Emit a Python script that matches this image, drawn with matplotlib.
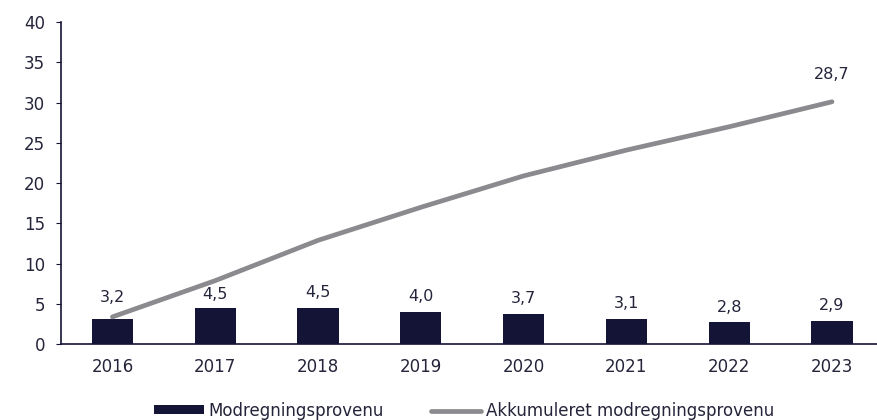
import matplotlib
matplotlib.use("Agg")
import matplotlib.pyplot as plt
from matplotlib.patches import Patch
from matplotlib.lines import Line2D

years = ["2016", "2017", "2018", "2019", "2020", "2021", "2022", "2023"]
bar_values = [3.2, 4.5, 4.5, 4.0, 3.7, 3.1, 2.8, 2.9]
bar_labels = ["3,2", "4,5", "4,5", "4,0", "3,7", "3,1", "2,8", "2,9"]
cum_values = [3.4, 7.9, 12.9, 17.0, 20.9, 24.1, 27.0, 30.1]
cum_last_label = "28,7"

plt.rcParams['font.family'] = ['DejaVu Sans']
navy = "#141437"
grey = "#8a8a8f"
textc = "#24243a"

fig = plt.figure(figsize=(8.77, 4.2), dpi=100)
ax = fig.add_axes([61/877, 1-344.3/420, (883.4-61)/877, 322.3/420])
x = list(range(len(years)))
ax.bar(x, bar_values, width=0.4, color=navy, zorder=2)
ax.plot(x, cum_values, color=grey, lw=3.4, solid_capstyle='round', zorder=3)
label_offsets = [10, 4, 6, 6, 6, 6, 5, 6]
for xi, v, lab, off in zip(x, bar_values, bar_labels, label_offsets):
    ax.annotate(lab, (xi, v), xytext=(0, off), textcoords='offset points',
                ha='center', va='bottom', fontsize=11.5, color=textc)
ax.annotate(cum_last_label, (x[-1], cum_values[-1]), xytext=(0, 14), textcoords='offset points',
            ha='center', va='bottom', fontsize=11.5, color=textc)
ax.set_xlim(-0.5, len(years) - 0.5)
ax.set_ylim(0, 40)
ax.set_yticks(range(0, 41, 5))
ax.set_xticks(x)
ax.set_xticklabels(years)
for s in ['top', 'right']:
    ax.spines[s].set_visible(False)
for s in ['left', 'bottom']:
    ax.spines[s].set_color(navy)
    ax.spines[s].set_linewidth(1.2)
ax.tick_params(axis='y', length=3.6, color=navy, labelsize=12, labelcolor=textc, pad=8)
ax.tick_params(axis='x', length=0, labelsize=12, labelcolor=textc, pad=10)

handles = [Patch(facecolor=navy, edgecolor='none'),
           Line2D([0], [0], color=grey, lw=3.4, solid_capstyle='round')]
fig.legend(handles, ["Modregningsprovenu", "Akkumuleret modregningsprovenu"],
           loc='center', bbox_to_anchor=(0.529, 0.022), ncol=2, frameon=False,
           fontsize=12, handlelength=3.0, handleheight=0.42, handletextpad=0.3,
           columnspacing=2.8, labelcolor=textc)
fig.savefig("out.png", dpi=100)
